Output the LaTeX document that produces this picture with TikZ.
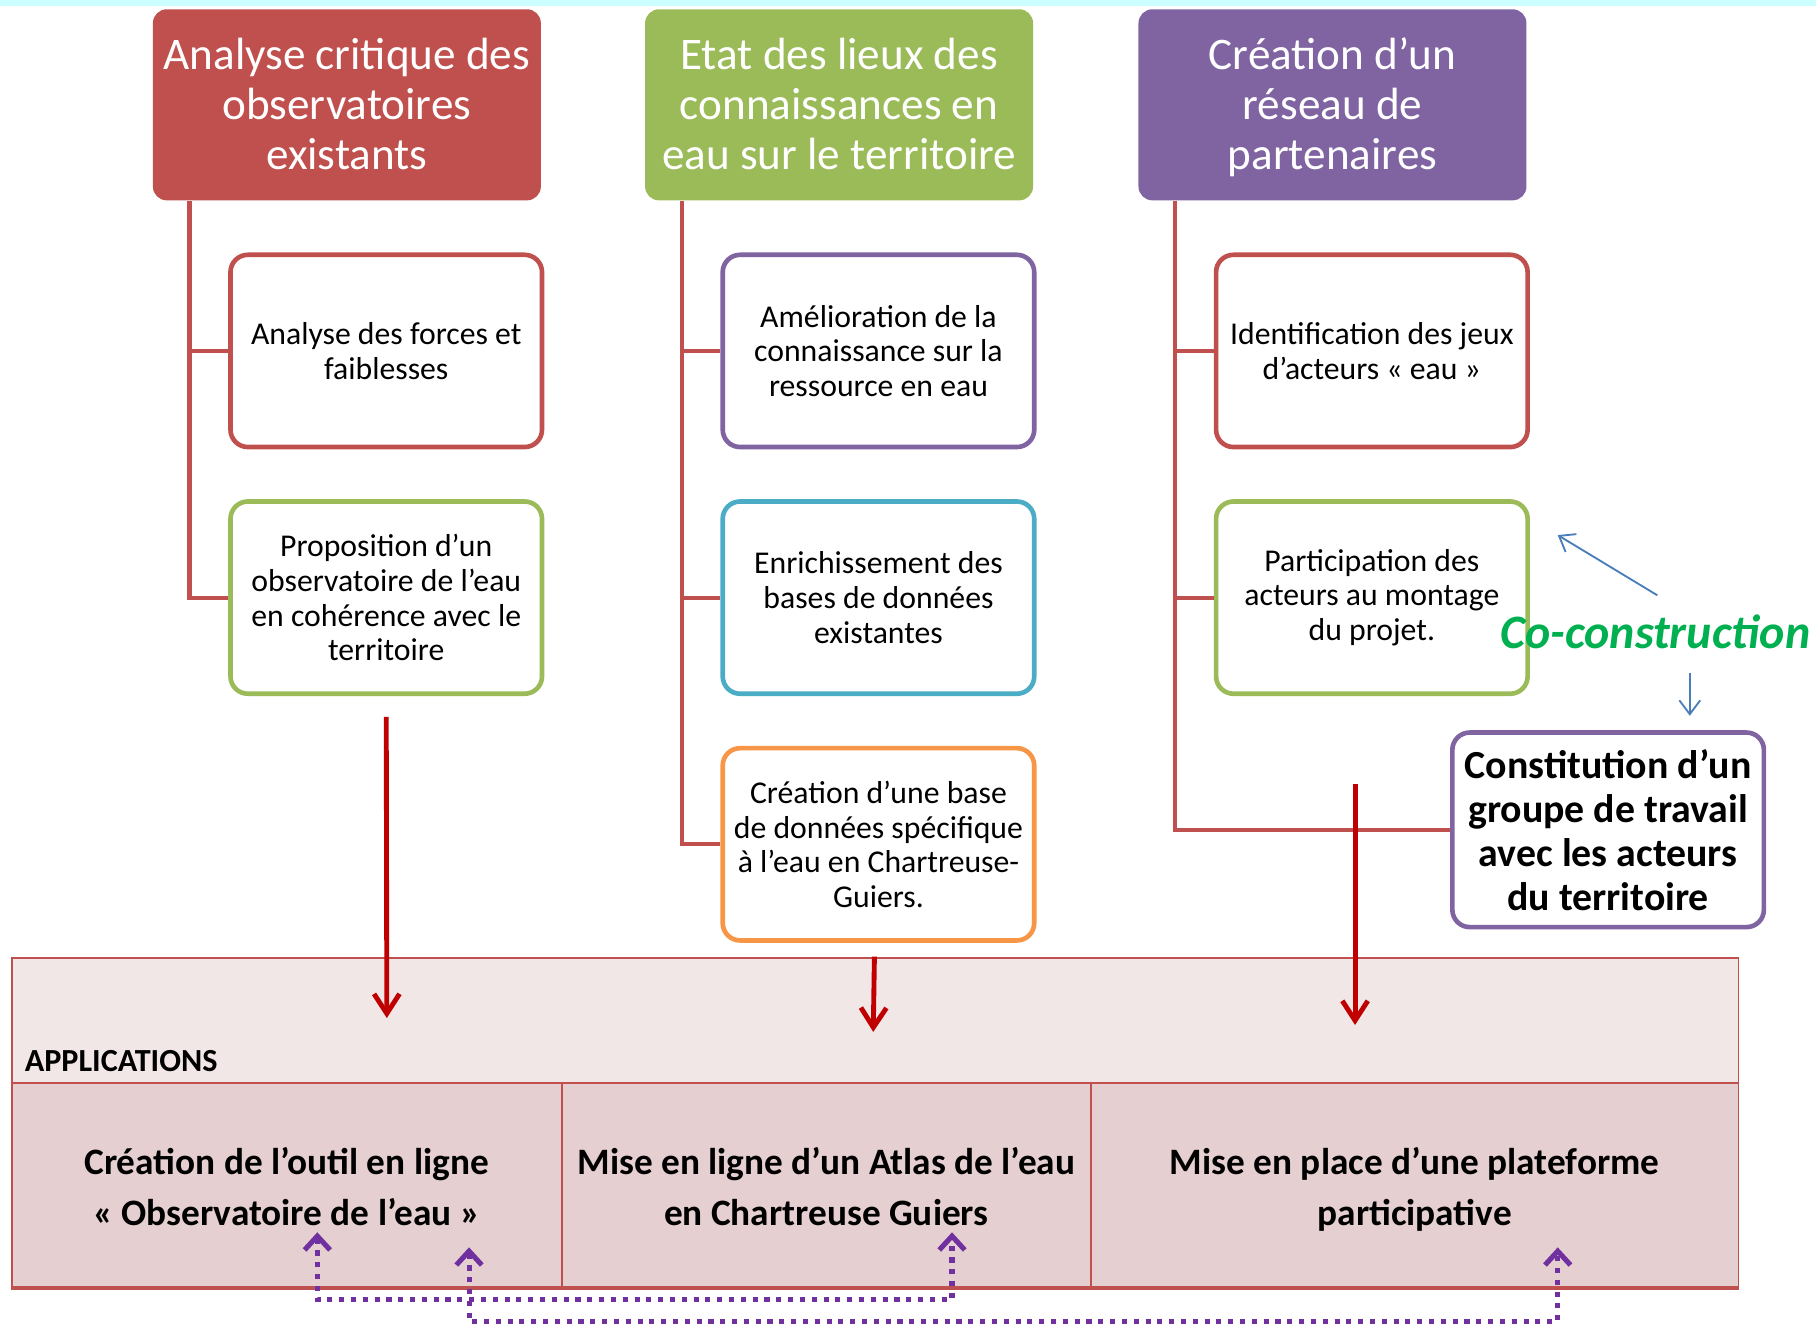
\documentclass[tikz,border=0pt]{standalone}
\usepackage{fontspec}
\setmainfont{Carlito}
\usetikzlibrary{arrows.meta}
\definecolor{hred}{HTML}{C0504D}
\definecolor{hgreen}{HTML}{9BBB59}
\definecolor{hpurple}{HTML}{8064A2}
\definecolor{hblue}{HTML}{4BACC6}
\definecolor{horange}{HTML}{F79646}
\definecolor{darkred}{HTML}{C00000}
\definecolor{dotpurple}{HTML}{7030A0}
\definecolor{cogreen}{HTML}{00B050}
\definecolor{arrblue}{HTML}{4A7EBB}
\definecolor{topfill}{HTML}{F2E7E7}
\definecolor{cellfill}{HTML}{E6CFD0}
\definecolor{cyanstrip}{HTML}{CCFFFF}
\newcommand\hdtop{\rule{0pt}{19pt}}
\newcommand\celltop{\rule{0pt}{19.4pt}}
\begin{document}
\begin{tikzpicture}[x=0.5pt,y=-0.5pt,
  header/.style={rounded corners=6pt, minimum width=167.5pt, minimum height=82.5pt,
    inner sep=0pt, text=white, align=center, font=\fontsize{19.5}{21.5}\selectfont},
  child/.style={draw, line width=2pt, fill=white, rounded corners=7.5pt,
    minimum width=134.5pt, minimum height=83pt, inner sep=0pt, align=center,
    font=\fontsize{13.7}{15}\selectfont},
  tree/.style={draw=hred, line width=1.75pt},
  redarrow/.style={draw=darkred, line width=2.1pt, -{Straight Barb[length=8.5pt,width=11pt]}},
  cell/.style={draw=hred, line width=0.8pt, fill=cellfill, minimum height=88pt, inner sep=0pt,
    align=center, font=\bfseries\fontsize{16.1}{22}\selectfont},
  pdot/.style={draw=dotpurple, line width=2.2pt, dash pattern=on 2.2pt off 2.9pt,
    {Straight Barb[length=6pt,width=11pt]}-{Straight Barb[length=6pt,width=11pt]}},
  barrow/.style={draw=arrblue, line width=0.8pt, -{Straight Barb[length=6pt,width=9pt]}}
]
\useasboundingbox (0,0) rectangle (1568,1145);
\fill[cyanstrip] (0,0) rectangle (1568,5);

% headers
\node[header, fill=hred] (h1) at (299.5,90.5) {\hdtop Analyse critique des\\observatoires\\existants\strut};
\node[header, fill=hgreen] (h2) at (724.5,90.5) {\hdtop Etat des lieux des\\connaissances en\\eau sur le territoire\strut};
\node[header, fill=hpurple] (h3) at (1150.5,90.5) {\hdtop Création d’un\\réseau de\\partenaires\strut};

% children
\node[child, draw=hred] (c11) at (333.5,303) {Analyse des forces et\\faiblesses};
\node[child, draw=hgreen] (c12) at (333.5,516) {Proposition d’un\\observatoire de l’eau\\en cohérence avec le\\territoire};
\node[child, draw=hpurple] (c21) at (758.5,303) {Amélioration de la\\connaissance sur la\\ressource en eau};
\node[child, draw=hblue] (c22) at (758.5,516) {Enrichissement des\\bases de données\\existantes};
\node[child, draw=horange] (c23) at (758.5,729) {Création d’une base\\de données spécifique\\à l’eau en Chartreuse-\\Guiers.};
\node[child, draw=hred] (c31) at (1184.5,303) {Identification des jeux\\d’acteurs «~eau~»};
\node[child, draw=hgreen] (c32) at (1184.5,516) {Participation des\\acteurs au montage\\du projet.};
\node[child, draw=hpurple, font=\bfseries\fontsize{17.2}{19}\selectfont, minimum height=84pt] (c33) at (1388.5,716.5) {Constitution d’un\\groupe de travail\\avec les acteurs\\du territoire};

% tree connectors
\draw[tree] ([xshift=16pt]h1.south west) |- (c12.west);
\draw[tree] ([xshift=16pt]h1.south west) |- (c11.west);
\draw[tree] ([xshift=16pt]h2.south west) |- (c23.west);
\draw[tree] ([xshift=16pt]h2.south west) |- (c22.west);
\draw[tree] ([xshift=16pt]h2.south west) |- (c21.west);
\draw[tree] ([xshift=16pt]h3.south west) |- (c33.west);
\draw[tree] ([xshift=16pt]h3.south west) |- (c32.west);
\draw[tree] ([xshift=16pt]h3.south west) |- (c31.west);

% applications
\node[draw=hred, line width=0.8pt, fill=topfill, minimum width=745.5pt, minimum height=54pt, inner sep=0pt] (apptop) at (755.5,881) {};
\node[anchor=base west, inner sep=0pt, font=\bfseries\fontsize{13.9}{15}\selectfont] (applab) at (21,925) {APPLICATIONS};
\node[cell, minimum width=237.5pt] (a1) at (247.5,1023) {\celltop Création de l’outil en ligne\\«~Observatoire de l’eau~»\strut};
\node[cell, minimum width=228.5pt] (a2) at (713.5,1023) {\celltop Mise en ligne d’un Atlas de l’eau\\en Chartreuse Guiers\strut};
\node[cell, minimum width=279.5pt] (a3) at (1221.5,1023) {\celltop Mise en place d’une plateforme\\participative\strut};
\draw[hred, line width=1.6pt] (a1.south west) -- (a3.south east);

% red arrows
\coordinate (r1e) at (334,879);
\coordinate (r2s) at (755,826);
\coordinate (r2e) at (754,891);
\coordinate (r3s) at (1170,677);
\coordinate (r3e) at (1170,885);
\draw[redarrow] ([yshift=-9pt]c12.south) -- (r1e);
\draw[redarrow] (r2s) -- (r2e);
\draw[redarrow] (r3s) -- (r3e);

% purple dotted links
\coordinate (p1) at (274,1064);
\coordinate (p2) at (822,1064);
\coordinate (p3) at (405,1077);
\coordinate (p4) at (1345,1077);
\draw[pdot] (p1) -- ++(0,58) -| (p2);
\draw[pdot] (p3) -- ++(0,64) -| (p4);

% co-construction
\node[anchor=base west, inner sep=0pt, text=cogreen, font=\bfseries\itshape\fontsize{20.7}{22}\selectfont] (co) at (1295,560) {Co-construction};
\coordinate (b1s) at (1431,514);
\coordinate (b1e) at (1345,462);
\coordinate (b2s) at (1459,581);
\coordinate (b2e) at (1459,618);
\draw[barrow] (b1s) -- (b1e);
\draw[barrow] (b2s) -- (b2e);
\end{tikzpicture}
\end{document}
